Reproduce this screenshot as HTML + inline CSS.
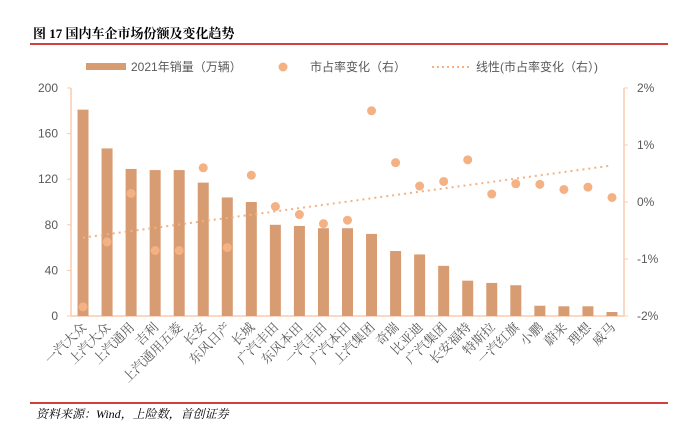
<!DOCTYPE html>
<html><head><meta charset="utf-8"><style>
body{margin:0;background:#fff;width:685px;height:425px;overflow:hidden;font-family:"Liberation Sans","Noto Sans CJK SC",sans-serif}
</style></head><body>
<svg width="685" height="425" xmlns="http://www.w3.org/2000/svg">
<text x="33" y="38" font-size="13" font-weight="bold" fill="#000" font-family="Liberation Serif, Noto Serif CJK SC, serif">图  17 国内车企市场份额及变化趋势</text>
<line x1="30" y1="44" x2="668" y2="44" stroke="#C00000" stroke-width="1.5"/>
<line x1="30" y1="403" x2="668" y2="403" stroke="#C00000" stroke-width="1.5"/>
<text x="36" y="418" font-size="12" font-style="italic" fill="#000" font-family="Liberation Serif, Noto Serif CJK SC, serif">资料来源：Wind，上险数，首创证券</text>
<g>
<rect x="86" y="63" width="40" height="7" fill="#D89C73"/>
<text x="131" y="71" font-size="12" fill="#595959">2021年销量（万辆）</text>
<circle cx="283" cy="67" r="4.5" fill="#F4B183"/>
<text x="310" y="71" font-size="12" fill="#595959">市占率变化（右）</text>
<line x1="432" y1="67" x2="470" y2="67" stroke="#F4B183" stroke-width="2" stroke-dasharray="2,3"/>
<text x="476" y="71" font-size="12" fill="#595959">线性(市占率变化（右）)</text>
</g>
<g id="plot"></g>
</svg>
<script>
const cats=["一汽大众","上汽大众","上汽通用","吉利","上汽通用五菱","长安","东风日产","长城","广汽丰田","东风本田","一汽丰田","广汽本田","上汽集团","奇瑞","比亚迪","广汽集团","长安福特","特斯拉","一汽红旗","小鹏","蔚来","理想","威马"];
const salesValues=[181,147,129,128,128,117,104,100,80,79,77,77,72,57,54,44,31,29,27,9,8.5,8.5,3.5];
const shareChange=[-1.84,-0.70,0.15,-0.85,-0.85,0.60,-0.80,0.47,-0.08,-0.22,-0.38,-0.32,1.60,0.69,0.28,0.36,0.74,0.14,0.32,0.31,0.22,0.26,0.08];
const leftTicks=[0,40,80,120,160,200];
const rightTicks=[-2,-1,0,1,2];
const rightTickLabels=["-2%","-1%","0%","1%","2%"];
const NS="http://www.w3.org/2000/svg";
const g=document.getElementById('plot');
const X0=71,X1=624,Y0=316,Y1=88;
const n=salesValues.length,band=(X1-X0)/n;
const xc=i=>X0+band*(i+0.5);
const yL=v=>Y0-(v/200)*(Y0-Y1);
const yR=v=>Y0-((v+2)/4)*(Y0-Y1);
function mk(t,a){const e=document.createElementNS(NS,t);for(const k in a)e.setAttribute(k,a[k]);g.appendChild(e);return e;}
let e;
e=mk('line',{x1:X0,y1:Y1,x2:X0,y2:Y0,stroke:'#F8CBAD','stroke-width':1.5});


e=mk('line',{x1:X1,y1:Y1,x2:X1,y2:Y0,stroke:'#F8CBAD','stroke-width':1.5});


e=mk('line',{x1:X0,y1:Y0,x2:X1,y2:Y0,stroke:'#F8CBAD','stroke-width':1.5});


leftTicks.forEach(v=>{
 e=mk('line',{x1:X0-4,y1:yL(v),x2:X0,y2:yL(v),stroke:'#F8CBAD'});
 
 
 e=mk('text',{x:X0-13,y:yL(v)+4,'font-size':12,fill:'#595959','text-anchor':'end'});e.textContent=v;
 
 
});
rightTicks.forEach((v,i)=>{
 e=mk('line',{x1:X1,y1:yR(v),x2:X1+4,y2:yR(v),stroke:'#F8CBAD'});
 
 
 e=mk('text',{x:X1+13,y:yR(v)+4,'font-size':12,fill:'#595959'});e.textContent=rightTickLabels[i];
 
 
});
salesValues.forEach((v,i)=>{
 e=mk('rect',{x:xc(i)-5.5,y:yL(v),width:11,height:Y0-yL(v),fill:'#D89C73'});
 
 
 e=mk('text',{x:0,y:0,'font-size':13,fill:'#595959','text-anchor':'end','font-family':'Liberation Serif, Noto Serif CJK SC, serif',transform:`translate(${xc(i)+4},${Y0+12}) rotate(-45)`});
 e.textContent=cats[i];
 
 
});
let sx=0,sy=0,sxx=0,sxy=0;
shareChange.forEach((v,i)=>{sx+=i;sy+=v;sxx+=i*i;sxy+=i*v;});
const m=(n*sxy-sx*sy)/(n*sxx-sx*sx),b=(sy-m*sx)/n;
e=mk('line',{x1:xc(0),y1:yR(b),x2:xc(n-1),y2:yR(b+m*(n-1)),stroke:'#F4B183','stroke-width':2,'stroke-dasharray':'2,4'});


shareChange.forEach((v,i)=>{
 e=mk('circle',{cx:xc(i),cy:yR(v),r:4.5,fill:'#F4B183'});
 
 
});
</script>
</body></html>
